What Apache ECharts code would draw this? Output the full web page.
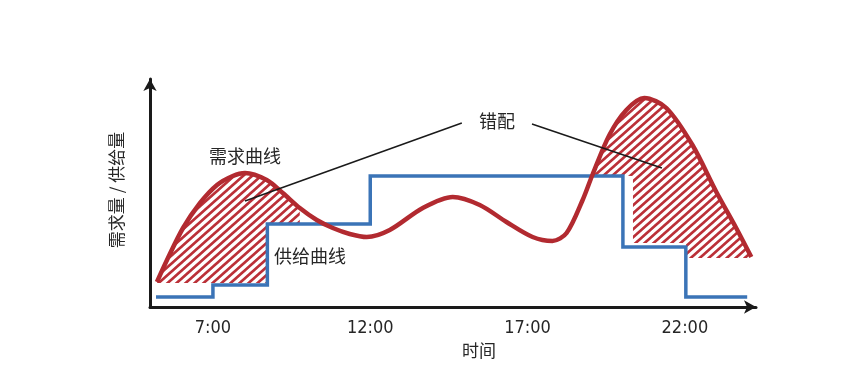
<!DOCTYPE html>
<html><head><meta charset="utf-8">
<script src="https://cdn.jsdelivr.net/npm/echarts@6/dist/echarts.min.js"></script>
<style>html,body{margin:0;padding:0;background:#fff}#c{width:851px;height:375px}</style>
</head><body><div id="c"></div>
<script>
// x: hour of day, y: quantity (arbitrary units)
const tickHours = [7, 12, 17, 22];
const tickLabels = ['7:00', '12:00', '17:00', '22:00'];

const demandCurve = [
  [5.22, 25], [5.54, 47], [6.05, 79], [6.59, 104], [7.13, 122], [7.63, 131],
  [8.02, 134], [8.71, 127], [9.22, 114], [9.76, 99], [10.30, 87], [10.81, 79],
  [11.35, 73], [11.89, 70], [12.62, 77], [13.67, 99], [14.62, 110], [15.48, 102],
  [16.33, 85], [17.16, 70], [17.79, 66], [18.24, 74], [18.75, 107], [19.06, 132],
  [19.60, 172], [20.14, 197], [20.71, 209], [21.41, 199], [22.24, 162], [23.00, 115],
  [23.63, 79], [24.11, 50]
];

const supplyStep = [
  [5.19, 10], [7.0, 10], [7.0, 22], [8.73, 22], [8.73, 83], [12.0, 83],
  [12.0, 131], [20.03, 131], [20.03, 60], [22.03, 60], [22.03, 10], [23.98, 10]
];

// mismatch (hatched) regions: part of demand curve + lower boundary
const mismatchA_range = [5.22, 9.76];
const mismatchA_lower = [[9.76, 83], [8.73, 83], [8.73, 24], [5.22, 24]];
const mismatchB_range = [19.06, 24.11];
const mismatchB_lower = [[24.11, 49], [22.03, 49], [22.03, 64], [20.35, 64], [20.35, 131]];

// leader lines from "错配"
const leaderA = [[14.91, 184], [8.02, 106]];
const leaderB = [[17.14, 183], [21.27, 139]];

const RED = '#b22a30', BLUE = '#3b74b7', HATCH = '#bb3038', INK = '#262626';

function makeHatch() {
  const w = 9, h = 8, cv = document.createElement('canvas');
  cv.width = w; cv.height = h;
  const g = cv.getContext('2d');
  g.strokeStyle = HATCH; g.lineWidth = 2.7;
  g.beginPath();
  for (let c = 0; c <= 2; c++) {
    // line x/w + y/h = c, extended past the tile
    g.moveTo(c * w + w, -h); g.lineTo(c * w - 2 * w, 2 * h);
  }
  g.stroke();
  return { image: cv, repeat: 'repeat' };
}
const hatch = makeHatch();

const regions = [
  { range: mismatchA_range, lower: mismatchA_lower },
  { range: mismatchB_range, lower: mismatchB_lower }
];
function regionPolygon(r) {
  const up = demandCurve.filter(p => p[0] >= r.range[0] - 1e-9 && p[0] <= r.range[1] + 1e-9);
  return up.concat(r.lower);
}

const chart = echarts.init(document.getElementById('c'), null, { renderer: 'canvas' });
const axisLine = {
  show: true, onZero: false,
  lineStyle: { color: '#1a1a1a', width: 3 },
  symbol: ['none', 'arrow'], symbolSize: [10, 12]
};
const textFont = "'Noto Sans CJK SC', 'Noto Sans', sans-serif";

chart.setOption({
  animation: false,
  backgroundColor: '#fff',
  grid: { left: 150, right: 95, top: 79, bottom: 68 },
  xAxis: {
    type: 'value', min: 5, max: 24.26,
    axisLine: axisLine,
    axisTick: { show: false },
    splitLine: { show: false },
    axisLabel: {
      customValues: tickHours,
      formatter: v => tickLabels[tickHours.indexOf(v)] || '',
      fontSize: 18, color: INK, margin: 12,
      fontFamily: "'Liberation Sans Narrow', 'DejaVu Sans Condensed', sans-serif"
    }
  },
  yAxis: {
    type: 'value', min: 0, max: 228,
    axisLine: axisLine,
    axisTick: { show: false },
    splitLine: { show: false },
    axisLabel: { show: false }
  },
  graphic: [
    { type: 'text', left: 479 - 17, top: 342, style: { text: '时间', fontSize: 17, fill: INK, fontFamily: textFont } },
    { type: 'text', x: 117, y: 190, rotation: Math.PI / 2,
      style: { text: '需求量 / 供给量', fontSize: 17, fill: INK, fontFamily: textFont, align: 'center', verticalAlign: 'middle' } },
    { type: 'text', x: 245, y: 156, style: { text: '需求曲线', fontSize: 18, fill: INK, fontFamily: textFont, align: 'center', verticalAlign: 'middle' } },
    { type: 'text', x: 310, y: 256, style: { text: '供给曲线', fontSize: 18, fill: INK, fontFamily: textFont, align: 'center', verticalAlign: 'middle' } },
    { type: 'text', x: 497, y: 121, style: { text: '错配', fontSize: 18, fill: INK, fontFamily: textFont, align: 'center', verticalAlign: 'middle' } }
  ],
  series: [
    {
      type: 'custom', z: 1, silent: true,
      data: regions.map(r => [r.range[0], r.lower[0][1]]),
      renderItem: function (params, api) {
        const poly = regionPolygon(regions[params.dataIndex]).map(p => api.coord(p));
        return { type: 'polygon', shape: { points: poly }, style: { fill: hatch, stroke: null } };
      }
    },
    {
      type: 'line', z: 3, data: supplyStep, symbol: 'none',
      lineStyle: { color: BLUE, width: 3.5, join: 'miter' }
    },
    {
      type: 'line', z: 4, data: demandCurve, symbol: 'none', smooth: 0.3,
      lineStyle: { color: RED, width: 4.5 }
    },
    {
      type: 'line', z: 5, data: leaderA, symbol: 'none',
      lineStyle: { color: '#1a1a1a', width: 1.5 }
    },
    {
      type: 'line', z: 5, data: leaderB, symbol: 'none',
      lineStyle: { color: '#1a1a1a', width: 1.5 }
    }
  ]
});
</script>
</body></html>
